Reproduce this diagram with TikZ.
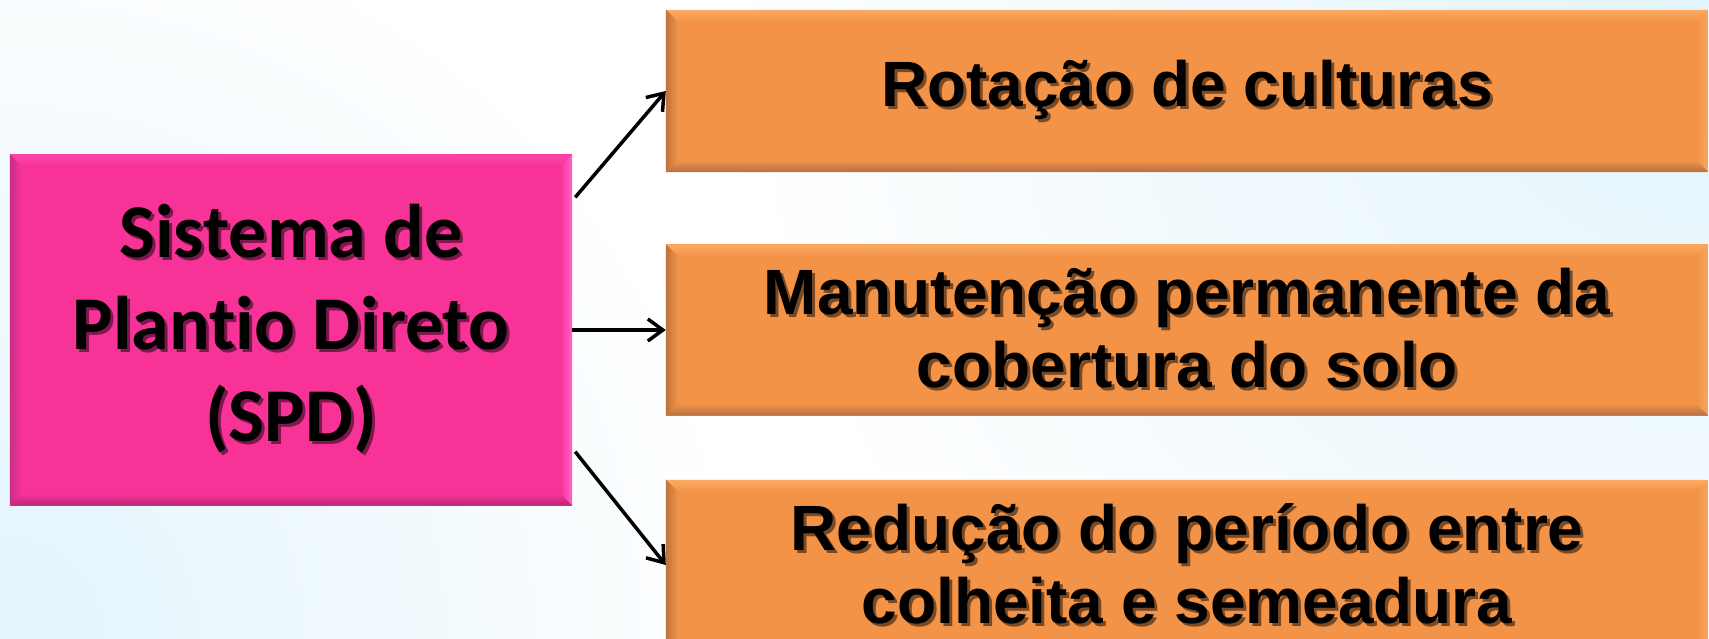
\documentclass[tikz,border=0pt]{standalone}
\usepackage{fontspec}
\usetikzlibrary{arrows.meta}

\newfontfamily\spdfont{Carlito}[Ligatures=NoCommon]
\newfontfamily\itemfont{Liberation Sans}

\definecolor{spdpink}{RGB}{247,51,152}
\definecolor{spdtop}{RGB}{252,70,168}
\definecolor{spdright}{RGB}{255,100,205}
\definecolor{spdbottom}{RGB}{185,38,118}
\definecolor{spdleft}{RGB}{200,45,135}
\definecolor{itemorange}{RGB}{242,147,72}
\definecolor{itemtop}{RGB}{252,170,100}
\definecolor{itemright}{RGB}{248,165,95}
\definecolor{itembottom}{RGB}{180,112,68}
\definecolor{itemleft}{RGB}{192,114,56}
\definecolor{bgblue}{RGB}{226,244,252}

% text with a soft drop shadow
\newcommand{\shtext}[1]{\makebox[0pt][l]{\kern3pt\raisebox{-3pt}{\textcolor{shcol}{#1}}}#1}

% bevelled edges: node, main, top, right, bottom, left
\newcommand{\bevel}[6]{%
  \shade[top color=#3, bottom color=#2] (#1.north west) -- (#1.north east) -- ([shift={(-12,12)}]#1.north east) -- ([shift={(12,12)}]#1.north west) -- cycle;
  \shade[left color=#2, right color=#4] (#1.north east) -- (#1.south east) -- ([shift={(-12,-12)}]#1.south east) -- ([shift={(-12,12)}]#1.north east) -- cycle;
  \shade[top color=#2, bottom color=#5] (#1.south east) -- (#1.south west) -- ([shift={(12,-12)}]#1.south west) -- ([shift={(-12,-12)}]#1.south east) -- cycle;
  \shade[left color=#6, right color=#2] (#1.south west) -- (#1.north west) -- ([shift={(12,12)}]#1.north west) -- ([shift={(12,-12)}]#1.south west) -- cycle;
}

\tikzset{
  spdbox/.style={fill=spdpink, minimum width=562pt, minimum height=351pt, inner sep=0pt, align=center,
    font=\spdfont\bfseries\fontsize{76}{92}\selectfont, execute at begin node={\colorlet{shcol}{spdpink!50!black}}},
  itembox/.style={fill=itemorange, minimum width=1042pt, inner sep=0pt, align=center,
    font=\itemfont\bfseries\fontsize{64}{73}\selectfont, execute at begin node={\colorlet{shcol}{itemorange!50!black}}},
  link/.style={line width=3.5pt, -{Straight Barb[length=15pt, width=22pt]}}
}

\begin{document}
\begin{tikzpicture}[x=1pt, y=-1pt]
	\useasboundingbox (0,0) rectangle (1709,639);

	\fill[white] (0,0) rectangle (1709,639);
	\begin{scope}
		\clip (0,0) rectangle (1709,639);
		\shade[inner color=bgblue, outer color=white] (1709,0) circle (1000pt);
		\shade[inner color=bgblue, outer color=white] (0,639) circle (760pt);
	\end{scope}

	\node[spdbox] (spd) at (291,330) {\shtext{Sistema de}\\\shtext{Plantio Direto}\\\shtext{(SPD)}};
	\node[itembox, minimum height=162pt] (rot) at (1187,91) {\shtext{Rotação de culturas}};
	\node[itembox, minimum height=171pt] (man) at (1187,330) {\shtext{Manutenção permanente da}\\\shtext{cobertura do solo}};
	\node[itembox, minimum height=170pt] (red) at (1187,565) {\shtext{Redução do período entre}\\\shtext{colheita e semeadura}};

	\bevel{spd}{spdpink}{spdtop}{spdright}{spdbottom}{spdleft}
	\bevel{rot}{itemorange}{itemtop}{itemright}{itembottom}{itemleft}
	\bevel{man}{itemorange}{itemtop}{itemright}{itembottom}{itemleft}
	\bevel{red}{itemorange}{itemtop}{itemright}{itembottom}{itemleft}

	\draw[link] ([shift={(3,43)}]spd.north east) -- (rot.west);
	\draw[link] (spd.east) -- (man.west);
	\draw[link] ([shift={(3,-54)}]spd.south east) -- (red.west);
\end{tikzpicture}
\end{document}
